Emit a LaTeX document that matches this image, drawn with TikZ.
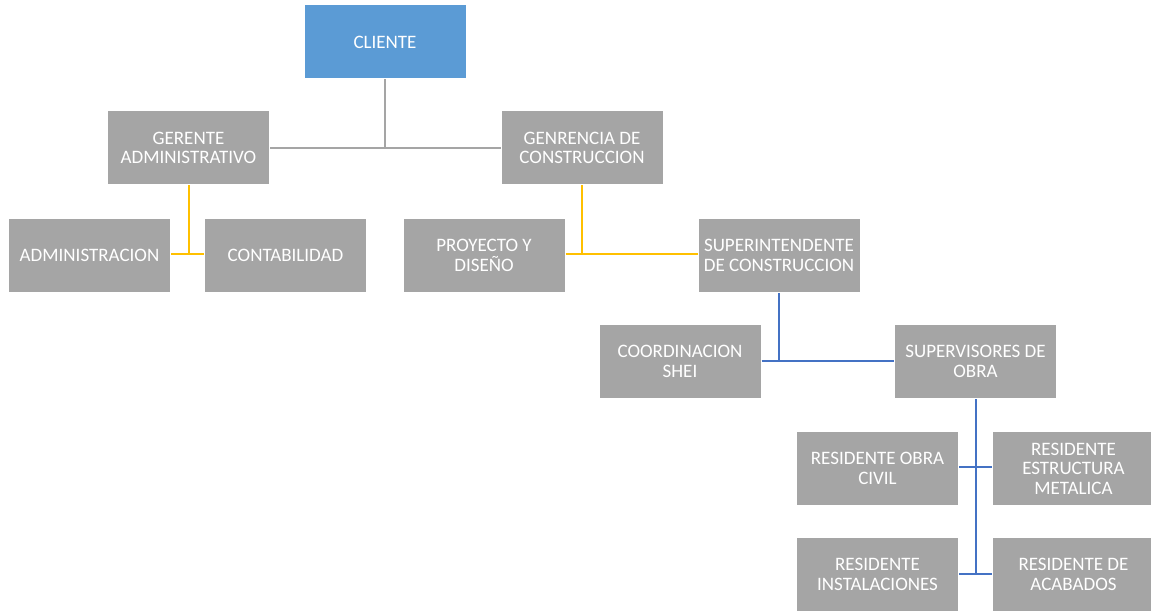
\documentclass[tikz,border=0pt]{standalone}
\usepackage{fontspec}
\setmainfont{Carlito}
\definecolor{boxgray}{HTML}{A5A5A5}
\definecolor{boxblue}{HTML}{5B9BD5}
\definecolor{lgray}{HTML}{A5A5A5}
\definecolor{lyellow}{HTML}{FFC000}
\definecolor{lblue}{HTML}{4472C4}
\begin{document}
\begin{tikzpicture}[x=1bp,y=-1bp,
  orgbox/.style={rectangle, fill=boxgray, draw=white, line width=1bp,
    minimum width=162bp, minimum height=74bp, inner sep=2bp,
    text=white, align=center,
    font=\fontsize{19bp}{19.5bp}\selectfont},
  topbox/.style={orgbox, fill=boxblue},
  gline/.style={draw=lgray, line width=2bp},
  yline/.style={draw=lyellow, line width=2bp},
  bline/.style={draw=lblue, line width=2bp}]
\clip (0,0) rectangle (1151,611);
\fill[white] (0,0) rectangle (1151,611);

\node[topbox] (cli) at (385,42) {CLIENTE};
\node[orgbox] (ger) at (188.5,148) {GERENTE\\ADMINISTRATIVO};
\node[orgbox] (gen) at (582,148) {GENRENCIA DE\\CONSTRUCCION};
\node[orgbox] (adm) at (89.5,255.5) {ADMINISTRACION};
\node[orgbox] (con) at (285.5,255.5) {CONTABILIDAD};
\node[orgbox] (pro) at (484,255.5) {PROYECTO Y\\DISEÑO};
\node[orgbox] (sup) at (779,255.5) {SUPERINTENDENTE\\DE CONSTRUCCION};
\node[orgbox] (coo) at (680,361.5) {COORDINACION\\SHEI};
\node[orgbox] (sov) at (975.5,361.5) {SUPERVISORES DE\\OBRA};
\node[orgbox] (roc) at (877.5,468.5) {RESIDENTE OBRA\\CIVIL};
\node[orgbox] (rem) at (1073.5,468.5) {RESIDENTE\\ESTRUCTURA\\METALICA};
\node[orgbox] (rin) at (877.5,574.5) {RESIDENTE\\INSTALACIONES};
\node[orgbox] (rac) at (1073.5,574.5) {RESIDENTE DE\\ACABADOS};

% gray connectors
\coordinate (j1) at (385,148);
\draw[gline] (cli.south) -- (j1);
\draw[gline] (ger.east) -- (gen.west);
% yellow connectors
\coordinate (j2) at (188.5,254);
\draw[yline] (ger.south) -- (j2);
\draw[yline] (adm.east |- j2) -- (con.west |- j2);
\coordinate (j3) at (582,254);
\draw[yline] (gen.south) -- (j3);
\draw[yline] (pro.east |- j3) -- (sup.west |- j3);
% blue connectors
\coordinate (j4) at (779,361);
\draw[bline] (sup.south) -- (j4);
\draw[bline] (coo.east |- j4) -- (sov.west |- j4);
\coordinate (j5) at (975.5,574);
\draw[bline] (sov.south) -- (j5);
\draw[bline] (roc.east |- 0,467) -- (rem.west |- 0,467);
\draw[bline] (rin.east |- j5) -- (rac.west |- j5);
\end{tikzpicture}
\end{document}
